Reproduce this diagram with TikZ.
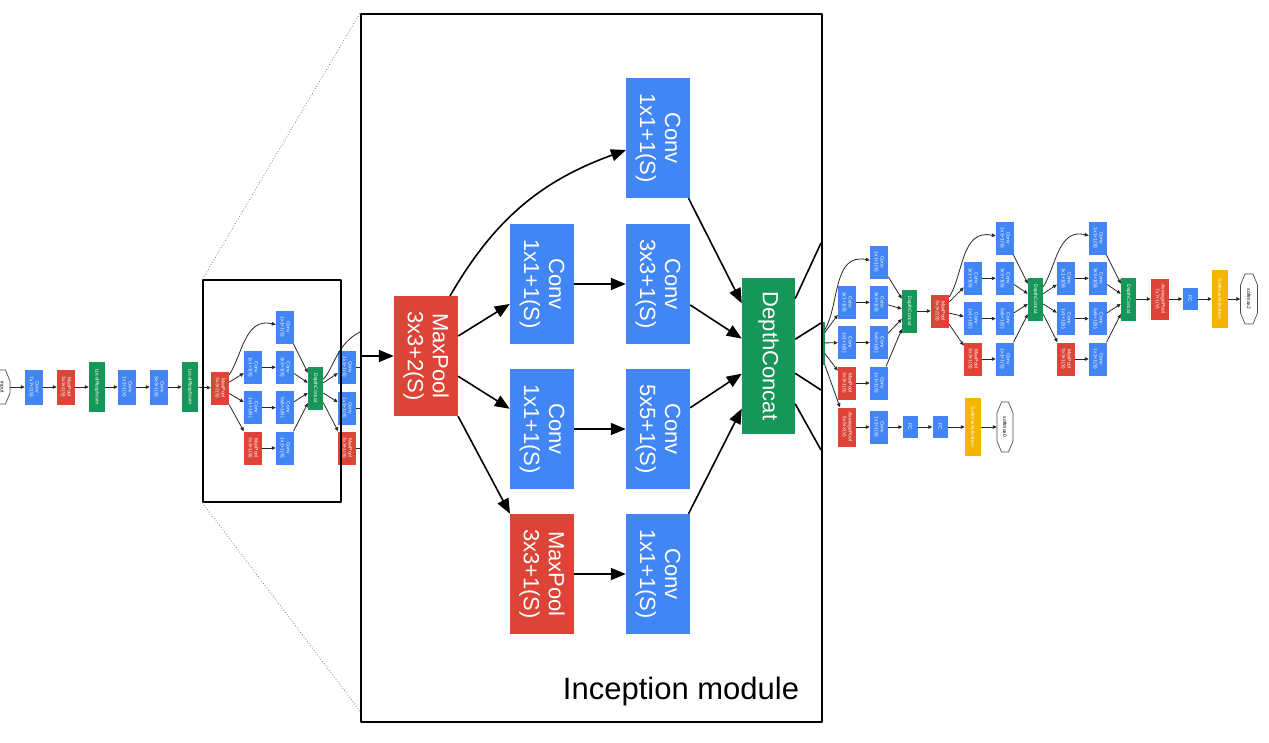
\documentclass[tikz,border=0pt]{standalone}
\usepackage{fontspec}
\setmainfont{Liberation Sans}
\usetikzlibrary{arrows.meta}
\definecolor{gblue}{RGB}{66,133,244}
\definecolor{gred}{RGB}{219,68,55}
\definecolor{ggreen}{RGB}{22,150,88}
\definecolor{gyellow}{RGB}{244,180,0}

% one small inception block: name, x of first column, y of top row, input node, y of concat
\newcommand{\incmod}[5]{%
  \node[sconv] (#1-1)   at ({#2+32},{-#3})      {Conv\\1x1+1(S)};
  \node[sconv] (#1-2a)  at (#2,{-#3-40.3})      {Conv\\1x1+1(S)};
  \node[sconv] (#1-2b)  at ({#2+32},{-#3-40.3}) {Conv\\3x3+1(S)};
  \node[sconv] (#1-3a)  at (#2,{-#3-80.6})      {Conv\\1x1+1(S)};
  \node[sconv] (#1-3b)  at ({#2+32},{-#3-80.6}) {Conv\\5x5+1(S)};
  \node[spool] (#1-4a)  at (#2,{-#3-121})       {MaxPool\\3x3+1(S)};
  \node[sconv] (#1-4b)  at ({#2+32},{-#3-121})  {Conv\\1x1+1(S)};
  \node[scat]  (#1-cat) at ({#2+62.5},{-#5})    {DepthConcat};
  \draw[sarr] (#4) to[out=70,in=190] (#1-1);
  \draw[sarr] (#4) -- (#1-2a);
  \draw[sarr] (#4) -- (#1-3a);
  \draw[sarr] (#4) -- (#1-4a);
  \draw[sarr] (#1-2a) -- (#1-2b);
  \draw[sarr] (#1-3a) -- (#1-3b);
  \draw[sarr] (#1-4a) -- (#1-4b);
  \foreach \b in {1,2b,3b,4b} \draw[sarr] (#1-\b) -- (#1-cat);
}

% octagon frame round an end node: name, half width, half height
\newcommand{\termframe}[3]{%
  \draw[termline] ([shift={(-#2+4.5,#3)}]#1.center) -- ([shift={(#2-4.5,#3)}]#1.center)
    -- ([shift={(#2,#3-11)}]#1.center) -- ([shift={(#2,-#3+11)}]#1.center)
    -- ([shift={(#2-4.5,-#3)}]#1.center) -- ([shift={(-#2+4.5,-#3)}]#1.center)
    -- ([shift={(-#2,-#3+11)}]#1.center) -- ([shift={(-#2,#3-11)}]#1.center) -- cycle;
}

\begin{document}
\begin{tikzpicture}[x=1pt, y=1pt, line join=round,
  blk/.style={rotate=-90, align=center, text=white, inner sep=0pt},
  sblk/.style={blk, minimum width=33, minimum height=18, font=\fontsize{5}{5.6}\selectfont},
  sconv/.style={sblk, fill=gblue},
  spool/.style={sblk, fill=gred},
  scat/.style={sblk, fill=ggreen, minimum width=43, minimum height=15},
  snorm/.style={sblk, fill=ggreen, minimum width=50, minimum height=16},
  ssoft/.style={sblk, fill=gyellow, minimum width=58, minimum height=16},
  sfc/.style={sblk, fill=gblue, minimum width=22, minimum height=15},
  term/.style={sblk, text=black},
  termline/.style={draw=black!70, line width=0.7pt},
  bblk/.style={blk, minimum width=120, minimum height=64, font=\fontsize{22}{25}\selectfont},
  bconv/.style={bblk, fill=gblue},
  bpool/.style={bblk, fill=gred},
  bcat/.style={bblk, fill=ggreen, minimum width=156, minimum height=53},
  sarr/.style={-{Triangle[length=4pt,width=3.5pt]}, line width=0.8pt, draw=black!85},
  sline/.style={line width=0.8pt, draw=black!85},
  barr/.style={-{Triangle[length=15pt,width=12pt]}, line width=1.6pt},
  bline/.style={line width=1.6pt},
  zoomline/.style={dotted, gray, line width=0.8pt}
]
  \useasboundingbox (0,0) rectangle (1269,-742);

  % stem of the network
  \node[term, minimum width=34, minimum height=16] (input) at (2,-387) {input};
  \termframe{input}{8}{17}
  \node[sconv, minimum width=35] (conv1) at (34,-387) {Conv\\7x7+2(S)};
  \node[spool, minimum width=35] (pool1) at (66,-387) {MaxPool\\3x3+2(S)};
  \node[snorm] (norm1) at (97,-387) {LocalRespNorm};
  \node[sconv, minimum width=35] (conv2) at (127,-387) {Conv\\1x1+1(V)};
  \node[sconv, minimum width=35] (conv3) at (159,-387) {Conv\\3x3+1(S)};
  \node[snorm] (norm2) at (190,-387) {LocalRespNorm};
  \node[spool] (pool2) at (220,-388) {MaxPool\\3x3+2(S)};
  \draw[sarr] (input) -- (conv1);
  \draw[sarr] (conv1) -- (pool1);
  \draw[sarr] (pool1) -- (norm1);
  \draw[sarr] (norm1) -- (conv2);
  \draw[sarr] (conv2) -- (conv3);
  \draw[sarr] (conv3) -- (norm2);
  \draw[sarr] (norm2) -- (pool2);

  \incmod{incA}{253}{327}{pool2}{388}

  % next block, mostly under the big box
  \node[sconv] (incB-2a) at (347,-367) {Conv\\1x1+1(S)};
  \node[sconv] (incB-3a) at (347,-408) {Conv\\1x1+1(S)};
  \node[spool] (incB-4a) at (347,-448) {MaxPool\\3x3+1(S)};
  \coordinate (incB-top) at (362,-331);
  \coordinate (incB-2s) at (362,-367);
  \coordinate (incB-3s) at (362,-408);
  \coordinate (incB-4s) at (362,-448);
  \draw[sline] (incA-cat) to[out=65,in=205] (incB-top);
  \draw[sarr] (incA-cat) -- (incB-2a);
  \draw[sarr] (incA-cat) -- (incB-3a);
  \draw[sarr] (incA-cat) -- (incB-4a);
  \draw[sline] (incB-2a) -- (incB-2s);
  \draw[sline] (incB-3a) -- (incB-3s);
  \draw[sline] (incB-4a) -- (incB-4s);

  \node[draw, line width=1.3pt, minimum width=138, minimum height=222, inner sep=0pt] (zoomsrc) at (272,-391) {};

  % right part of the network
  \node[scat] (hidcat) at (817,-343) {DepthConcat};
  \incmod{incC}{847}{262}{hidcat}{311}
  \node[spool, minimum width=39] (avg1) at (847,-427) {AveragePool\\5x5+3(V)};
  \node[sconv] (auxconv) at (879,-427) {Conv\\1x1+1(S)};
  \node[sfc] (fc1a) at (910,-427) {FC};
  \node[sfc] (fc1b) at (940,-427) {FC};
  \node[ssoft] (soft0) at (973,-427) {SoftmaxActivation};
  \node[term, minimum width=50, minimum height=16] (out0) at (1005,-427) {softmax0};
  \termframe{out0}{8}{25}
  \draw[sarr] (hidcat) -- (avg1);
  \draw[sarr] (avg1) -- (auxconv);
  \draw[sarr] (auxconv) -- (fc1a);
  \draw[sarr] (fc1a) -- (fc1b);
  \draw[sarr] (fc1b) -- (soft0);
  \draw[sarr] (soft0) -- (out0);

  \node[spool] (pool3) at (940,-311) {MaxPool\\3x3+2(S)};
  \draw[sarr] (incC-cat) -- (pool3);
  \incmod{incD}{973}{238}{pool3}{299}
  \incmod{incE}{1066}{238}{incD-cat}{299}
  \node[spool, minimum width=41] (avg2) at (1160,-299) {AveragePool\\7x7+1(V)};
  \node[sfc] (fc2) at (1190,-299) {FC};
  \node[ssoft] (soft2) at (1220,-299) {SoftmaxActivation};
  \node[term, minimum width=50, minimum height=17] (out2) at (1249,-299) {softmax2};
  \termframe{out2}{8.5}{25}
  \draw[sarr] (incE-cat) -- (avg2);
  \draw[sarr] (avg2) -- (fc2);
  \draw[sarr] (fc2) -- (soft2);
  \draw[sarr] (soft2) -- (out2);

  % zoomed inception module
  \node[draw, fill=white, line width=2pt, minimum width=461, minimum height=708, inner sep=0pt] (zoombox) at (591.5,-368) {};
  \draw[zoomline] (zoomsrc.north west) -- (zoombox.north west);
  \draw[zoomline] (zoomsrc.south west) -- ([yshift=12pt]zoombox.south west);

  \coordinate (bigin) at (361,-356);
  \node[bpool] (bigpool) at (426,-356) {MaxPool\\3x3+2(S)};
  \node[bconv] (bigc1) at (658,-138) {Conv\\1x1+1(S)};
  \node[bconv] (bigr3) at (542,-284) {Conv\\1x1+1(S)};
  \node[bconv] (bigc3) at (658,-284) {Conv\\3x3+1(S)};
  \node[bconv] (bigr5) at (542,-429) {Conv\\1x1+1(S)};
  \node[bconv] (bigc5) at (658,-429) {Conv\\5x5+1(S)};
  \node[bpool] (bigpp) at (542,-574) {MaxPool\\3x3+1(S)};
  \node[bconv] (bigpc) at (658,-574) {Conv\\1x1+1(S)};
  \node[bcat] (bigcat) at (768.5,-356) {DepthConcat};
  \draw[barr] (bigin) -- (bigpool);
  \draw[barr] ([shift={(24,60)}]bigpool.center) to[out=60,in=200] ([shift={(-32,-12)}]bigc1.center);
  \draw[barr] (bigpool) -- (bigr3);
  \draw[barr] (bigpool) -- (bigr5);
  \draw[barr] (bigpool) -- (bigpp);
  \draw[barr] (bigr3) -- (bigc3);
  \draw[barr] (bigr5) -- (bigc5);
  \draw[barr] (bigpp) -- (bigpc);
  \draw[barr] (bigc1) -- (bigcat);
  \draw[barr] (bigc3) -- (bigcat);
  \draw[barr] (bigc5) -- (bigcat);
  \draw[barr] (bigpc) -- (bigcat);
  \coordinate (bigout1) at (821,-243);
  \coordinate (bigout2) at (821,-323);
  \coordinate (bigout3) at (821,-390);
  \coordinate (bigout4) at (821,-450);
  \draw[bline] (bigcat) -- (bigout1);
  \draw[bline] (bigcat) -- (bigout2);
  \draw[bline] (bigcat) -- (bigout3);
  \draw[bline] (bigcat) -- (bigout4);

  \node[anchor=base, font=\fontsize{31}{36}\selectfont] (title) at (681,-699) {Inception module};
\end{tikzpicture}
\end{document}
